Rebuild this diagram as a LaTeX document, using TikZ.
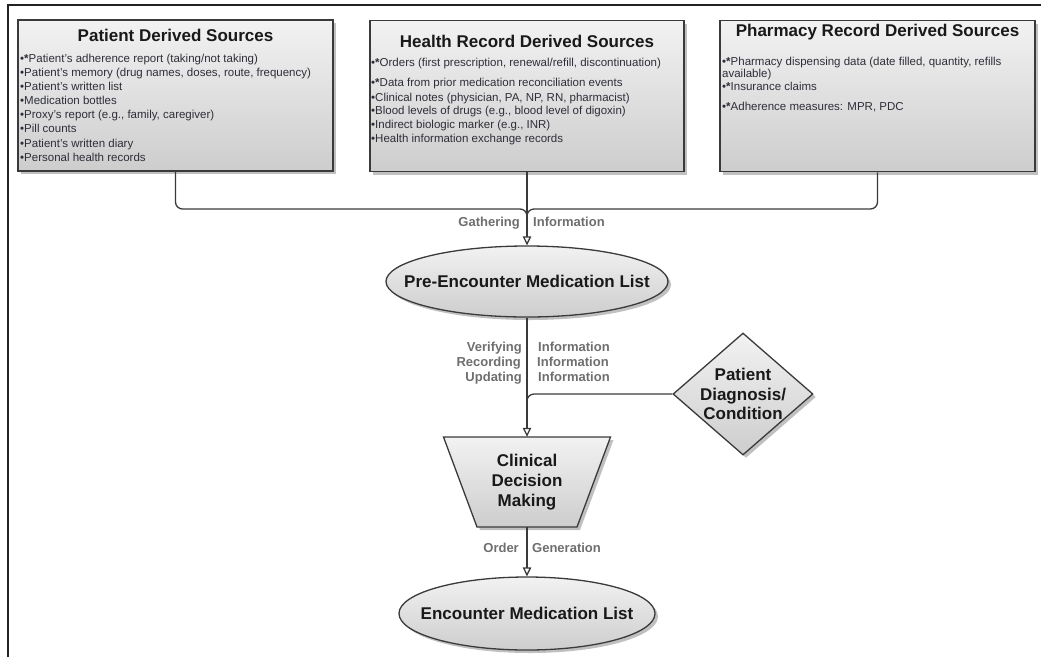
\documentclass[tikz,border=0pt]{standalone}
\usepackage{fontspec}
\setmainfont{Liberation Sans}
\usetikzlibrary{shapes.geometric,shadows,arrows.meta,calc}
\definecolor{edge}{HTML}{3A3A3A}
\definecolor{boxtop}{HTML}{F2F2F2}
\definecolor{boxbot}{HTML}{CDCDCD}
\definecolor{bodytxt}{HTML}{2E2E3A}
\definecolor{lbltxt}{HTML}{6E6E6E}
\definecolor{frame}{HTML}{222222}
\newcommand\stb{\textbullet{\bfseries*}}
\newcommand\bul{\textbullet}
\begin{document}
\begin{tikzpicture}[x=1pt,y=-1pt,
  shade/.style={draw=edge, top color=boxtop, bottom color=boxbot,
    drop shadow={shadow xshift=3pt,shadow yshift=-3pt,fill=black!45,opacity=.55}},
  srcbox/.style={shade, line width=1.6pt, minimum width=315pt, minimum height=151pt, inner sep=0pt},
  ell/.style={shade, ellipse, line width=1.3pt, inner sep=0pt},
  dia/.style={shade, diamond, line width=1.3pt, inner sep=0pt, minimum width=140pt, minimum height=122pt},
  ttl/.style={font=\fontsize{17}{20}\selectfont\bfseries, text=black!90, inner sep=0pt},
  itm/.style={font=\fontsize{11.5}{14}\selectfont, text=bodytxt, inner sep=0pt, anchor=base west},
  lbl/.style={font=\fontsize{13}{15}\selectfont\bfseries, text=lbltxt, inner sep=0pt},
  conn/.style={draw=edge, line width=1.3pt},
  arr/.style={-{Triangle[open,length=9pt,width=8.5pt]}}
]
\useasboundingbox (0,0) rectangle (1041,657);
% frame
\draw[frame, line width=1.2pt] (1041,5) -- (8,5) -- (8,657);

% source boxes
\node[srcbox] (b1) at (175.5,95.5) {};
\node[srcbox, minimum width=314pt] (b2) at (527,96) {};
\node[srcbox] (b3) at (877.5,96) {};

\node[ttl, anchor=base] (t1) at (175.5,41) {Patient Derived Sources};
\node[itm] (p1) at (20,62) {\stb Patient’s adherence report (taking/not taking)};
\node[itm] (p2) at (20,76) {\bul Patient’s memory (drug names, doses, route, frequency)};
\node[itm] (p3) at (20,90) {\bul Patient’s written list};
\node[itm] (p4) at (20,104) {\bul Medication bottles};
\node[itm] (p5) at (20,118) {\bul Proxy’s report (e.g., family, caregiver)};
\node[itm] (p6) at (20,132) {\bul Pill counts};
\node[itm] (p7) at (20,147) {\bul Patient’s written diary};
\node[itm] (p8) at (20,161) {\bul Personal health records};

\node[ttl, anchor=base] (t2) at (527,47) {Health Record Derived Sources};
\node[itm] (h1) at (371,66) {\stb Orders (first prescription, renewal/refill, discontinuation)};
\node[itm] (h2) at (371,86) {\stb Data from prior medication reconciliation events};
\node[itm] (h3) at (371,101) {\bul Clinical notes (physician, PA, NP, RN, pharmacist)};
\node[itm] (h4) at (371,114.5) {\bul Blood levels of drugs (e.g., blood level of digoxin)};
\node[itm] (h5) at (371,128) {\bul Indirect biologic marker (e.g., INR)};
\node[itm] (h6) at (371,142) {\bul Health information exchange records};

\node[ttl, anchor=base] (t3) at (877.5,36) {Pharmacy Record Derived Sources};
\node[itm] (r1) at (722,65) {\stb Pharmacy dispensing data (date filled, quantity, refills};
\node[itm] (r2) at (722,77) {available)};
\node[itm] (r3) at (722,90) {\stb Insurance claims};
\node[itm] (r4) at (722,110) {\stb Adherence measures: MPR, PDC};

% pre-encounter list
\node[ell, minimum width=282pt, minimum height=71pt] (pre) at (527,281.5) {};
\node[ttl] (pret) at (pre.center) {Pre-Encounter Medication List};

% diamond
\node[dia] (dia) at (743,394) {};
\node[ttl, align=center, font=\fontsize{17}{19.5}\selectfont\bfseries] (diat) at (dia.center) {Patient\\Diagnosis/\\Condition};

% trapezoid
\coordinate (tc) at (527,482);
\path[shade, line width=1.3pt] ($(tc)+(-83.5,-45)$) -- ($(tc)+(83.5,-45)$) -- ($(tc)+(50,45)$) -- ($(tc)+(-50,45)$) -- cycle;
\node[ttl, align=center, minimum width=167pt, minimum height=90pt] (trap) at (tc) {Clinical\\Decision\\Making};

% encounter list
\node[ell, minimum width=256pt, minimum height=73pt] (enc) at (527,613.5) {};
\node[ttl] (enct) at (enc.center) {Encounter Medication List};

% connectors
\coordinate (j1) at (527,209);
\coordinate (j1d) at (527,224);
\draw[conn, rounded corners=7pt] (b1.south) |- (j1) -- (j1d);
\draw[conn, rounded corners=7pt] (b3.south) |- (j1) -- (j1d);
\draw[conn, arr] (b2.south) -- (pre.north);

\coordinate (j2) at (527,394);
\coordinate (j2d) at (527,410);
\draw[conn, rounded corners=7pt] (dia.west) -- (j2) -- (j2d);
\draw[conn, arr] (pre.south) -- (trap.north);
\draw[conn, arr] (trap.south) -- (enc.north);

% labels
\node[lbl, anchor=base east] (g1) at (520,226.5) {Gathering};
\node[lbl, anchor=base west] (g2) at (533,226.5) {Information};
\node[lbl, anchor=base east] (v1) at (522,351.5) {Verifying};
\node[lbl, anchor=base west] (v2) at (538,351.5) {Information};
\node[lbl, anchor=base east] (v3) at (521,366.5) {Recording};
\node[lbl, anchor=base west] (v4) at (537,366.5) {Information};
\node[lbl, anchor=base east] (v5) at (522,381.5) {Updating};
\node[lbl, anchor=base west] (v6) at (538,381.5) {Information};
\node[lbl, anchor=base east] (o1) at (519,552.5) {Order};
\node[lbl, anchor=base west] (o2) at (532,552.5) {Generation};
\end{tikzpicture}
\end{document}
